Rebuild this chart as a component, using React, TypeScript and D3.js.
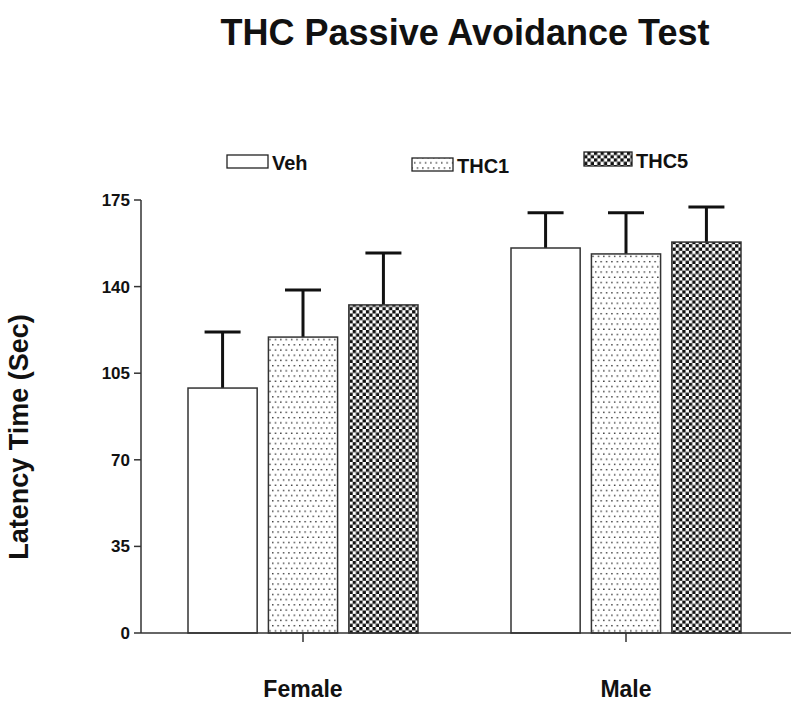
import React from "react";
import * as d3 from "d3";

const categories = ["Female", "Male"];
const seriesNames = ["Veh", "THC1", "THC5"];
const vehValues = [99, 155.6];
const thc1Values = [119.6, 153.2];
const thc5Values = [132.6, 158];
const vehErrors = [22.7, 14.2];
const thc1Errors = [19, 16.6];
const thc5Errors = [21, 14.2];
const yTicks = [0, 35, 70, 105, 140, 175];

const W = 800;
const H = 705;
const FONT = "'Liberation Sans', Arial, Helvetica, sans-serif";

export default function App() {
  const y = d3.scaleLinear().domain([0, 175]).range([633, 200]);
  const x0 = d3.scaleBand<string>().domain(categories).range([141.5, 787.5]).padding(0);
  const x1 = d3
    .scaleBand<string>()
    .domain(seriesNames)
    .range([46.5, 276.5])
    .paddingInner(0.14)
    .paddingOuter(0);

  const values = [vehValues, thc1Values, thc5Values];
  const errors = [vehErrors, thc1Errors, thc5Errors];
  const fills = ["#ffffff", "url(#dots)", "url(#checker)"];

  const legend = [
    { name: "Veh", bx: 227, by: 155, bw: 41, bh: 13, tx: 272, ty: 170 },
    { name: "THC1", bx: 412, by: 158, bw: 41, bh: 13, tx: 457, ty: 173 },
    { name: "THC5", bx: 584, by: 152, bw: 48, bh: 14, tx: 636, ty: 168 },
  ];

  return (
    <svg
      width={W}
      height={H}
      style={{ position: "absolute", left: 0, top: 0, background: "#fff" }}
      fontFamily={FONT}
    >
      <defs>
        <pattern id="dots" width={5.4} height={10.4} patternUnits="userSpaceOnUse">
          <rect width={5.4} height={10.4} fill="#fff" />
          <rect x={1} y={1} width={1.3} height={1.3} fill="#111" />
          <rect x={3.7} y={6.2} width={1.3} height={1.3} fill="#111" />
        </pattern>
        <pattern id="checker" width={6.6} height={6.6} patternUnits="userSpaceOnUse">
          <rect width={6.6} height={6.6} fill="#fff" />
          <rect x={0} y={0} width={3.3} height={3.3} fill="#111" />
          <rect x={3.3} y={3.3} width={3.3} height={3.3} fill="#111" />
        </pattern>
      </defs>
      <rect width={W} height={H} fill="#fff" />

      <text x={465} y={45} textAnchor="middle" fontSize={36} fontWeight="bold" fill="#111">
        THC Passive Avoidance Test
      </text>

      {/* legend */}
      {legend.map((l, i) => (
        <g key={l.name}>
          <rect x={l.bx} y={l.by} width={l.bw} height={l.bh} fill={fills[i]} stroke="#222" strokeWidth={1.3} />
          <text x={l.tx} y={l.ty} fontSize={20} fontWeight="bold" fill="#111">
            {l.name}
          </text>
        </g>
      ))}

      {/* bars */}
      {categories.map((c, ci) => (
        <g key={c} transform={`translate(${x0(c)},0)`}>
          {seriesNames.map((s, si) => {
            const v = values[si][ci];
            const e = errors[si][ci];
            const bx = x1(s)!;
            const bw = x1.bandwidth();
            const cx = bx + bw / 2;
            return (
              <g key={s}>
                <line x1={cx} x2={cx} y1={y(v)} y2={y(v + e)} stroke="#111" strokeWidth={3} />
                <line x1={cx - 18} x2={cx + 18} y1={y(v + e)} y2={y(v + e)} stroke="#111" strokeWidth={3} />
                <rect
                  x={bx}
                  y={y(v)}
                  width={bw}
                  height={y(0) - y(v)}
                  fill={fills[si]}
                  stroke="#333"
                  strokeWidth={1.5}
                />
              </g>
            );
          })}
        </g>
      ))}

      {/* y axis */}
      <line x1={141} x2={141} y1={y(175)} y2={y(0)} stroke="#333" strokeWidth={1.5} />
      {yTicks.map((t) => (
        <g key={t}>
          <line x1={134} x2={141} y1={y(t)} y2={y(t)} stroke="#333" strokeWidth={1.5} />
          <text x={130} y={y(t) + 6} textAnchor="end" fontSize={17} fontWeight="bold" fill="#111">
            {t}
          </text>
        </g>
      ))}

      {/* x axis */}
      <line x1={141} x2={791} y1={y(0)} y2={y(0)} stroke="#333" strokeWidth={1.5} />
      {categories.map((c) => {
        const cx = x0(c)! + x0.bandwidth() / 2;
        return (
          <g key={c}>
            <line x1={cx} x2={cx} y1={y(0)} y2={y(0) + 9} stroke="#333" strokeWidth={1.5} />
            <text x={cx} y={697} textAnchor="middle" fontSize={23} fontWeight="bold" fill="#111">
              {c}
            </text>
          </g>
        );
      })}

      <text
        transform="translate(28,437) rotate(-90)"
        textAnchor="middle"
        fontSize={27}
        fontWeight="bold"
        fill="#111"
      >
        Latency Time (Sec)
      </text>
    </svg>
  );
}
